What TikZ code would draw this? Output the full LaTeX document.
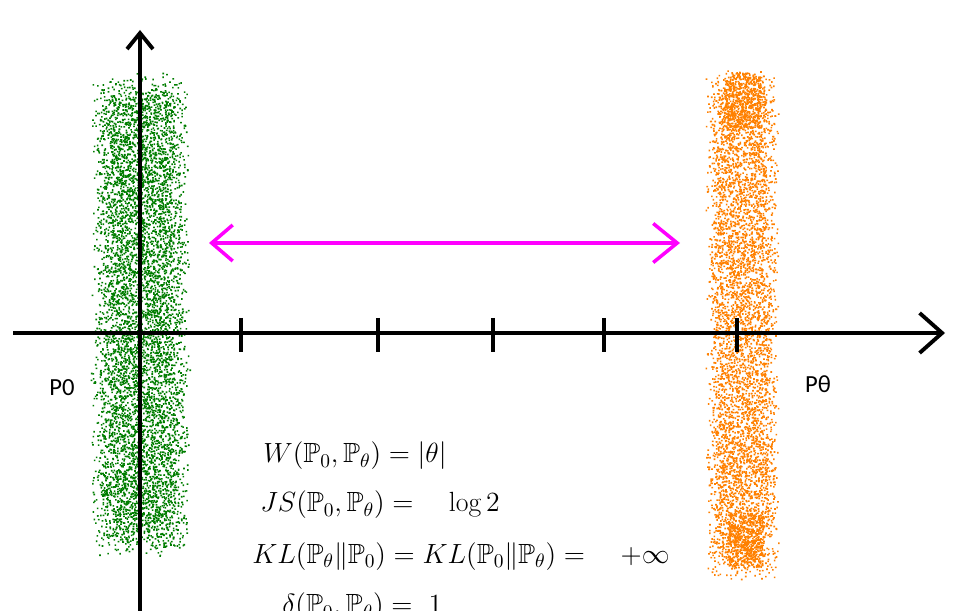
\documentclass[tikz,border=0pt]{standalone}
\usepackage{fix-cm}
\usepackage{amsmath,amssymb}
\usepackage{fontspec}
\newfontfamily\lblfont{Carlito}
\usetikzlibrary{arrows.meta}
\definecolor{distline}{RGB}{255,0,255}
\definecolor{realgreen}{RGB}{0,125,0}
\definecolor{fakeorange}{RGB}{255,128,0}

\begin{document}
\begin{tikzpicture}[x=0.02cm,y=-0.02cm,
  axis/.style={line width=2.2pt},
  tickmark/.style={line width=2.2pt},
  eq/.style={anchor=base west,inner sep=0pt,font=\fontsize{15.8}{19}\selectfont},
  lbl/.style={inner sep=0pt,font=\lblfont\fontsize{14}{16}\selectfont}]
\useasboundingbox (0,0) rectangle (975,611);

% the two samples
\pgfmathsetseed{11}
\foreach \k in {1,...,14}
  \fill[realgreen] \foreach \i in {1,...,500}{({140+38*rand+12*rand},{315+225*rand+18*rand}) rectangle ++(1.6,1.6)};
\foreach \k in {1,...,11}
  \fill[fakeorange] \foreach \i in {1,...,500}{({742+29*rand+8*rand},{325+240*rand+16*rand}) rectangle ++(1.6,1.6)};
\fill[fakeorange] \foreach \i in {1,...,500}{({742+18*rand},{100+28*rand}) rectangle ++(1.6,1.6)};
\fill[fakeorange] \foreach \i in {1,...,400}{({745+18*rand},{540+28*rand}) rectangle ++(1.6,1.6)};

% axes
\coordinate (xl) at (13,333);
\coordinate (xr) at (945,333);
\coordinate (yb) at (140,611);
\coordinate (yt) at (140,30);
\draw[axis,-{Straight Barb[length=0.45cm,width=0.8cm]}] (xl) -- (xr);
\draw[axis,-{Straight Barb[length=0.32cm,width=0.52cm]}] (yb) -- (yt);
\foreach \x in {241,378,493,604,737}
  \draw[tickmark] (\x,318) -- (\x,352);

% distance between the two
\coordinate (ml) at (209,243);
\coordinate (mr) at (680,243);
\draw[distline,line width=2pt,{Straight Barb[length=0.42cm,width=0.72cm]}-{Straight Barb[length=0.48cm,width=0.78cm]}] (ml) -- (mr);

\node[lbl] (p0) at (62,388) {P0};
\node[lbl] (pth) at (818,384) {Pθ};

\node[eq] (w) at (263,463) {$W(\mathbb{P}_0,\mathbb{P}_\theta) = |\theta|$};
\node[eq] (js) at (260,512) {$JS(\mathbb{P}_0,\mathbb{P}_\theta) = \quad\log 2$};
\node[eq] (kl) at (252,563) {$KL(\mathbb{P}_\theta\|\mathbb{P}_0) = KL(\mathbb{P}_0\|\mathbb{P}_\theta) = \quad +\infty$};
\node[eq] (dl) at (282,614) {$\delta(\mathbb{P}_0,\mathbb{P}_\theta) = \ 1$};
\end{tikzpicture}
\end{document}
